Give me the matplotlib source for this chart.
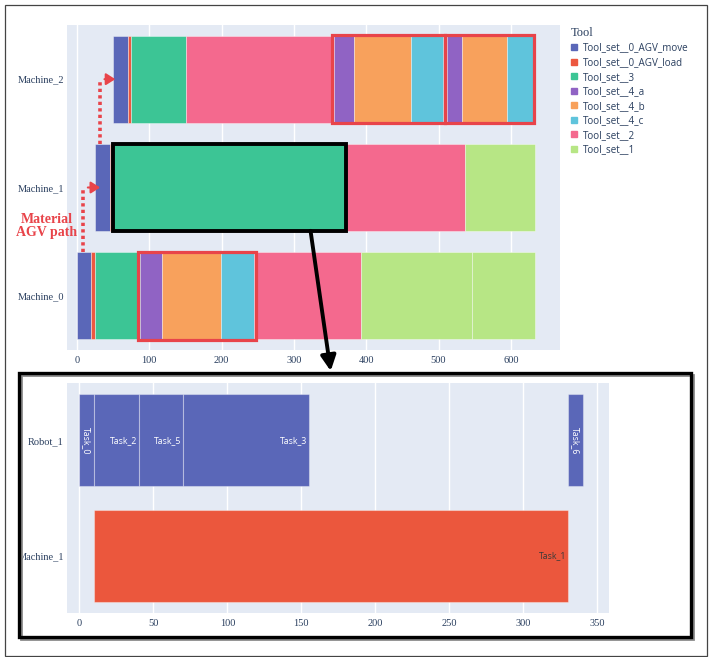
import matplotlib
matplotlib.use('Agg')
import matplotlib.pyplot as plt
import numpy as np
from matplotlib.patches import Rectangle, ConnectionPatch
from matplotlib.lines import Line2D

W, H = 710, 657

# --- top chart data (machine schedule by tool set) ---
tool_names = ['Tool_set__0_AGV_move', 'Tool_set__0_AGV_load', 'Tool_set__3',
              'Tool_set__4_a', 'Tool_set__4_b', 'Tool_set__4_c',
              'Tool_set__2', 'Tool_set__1']
tool_colors = ['#5A67B8', '#EC5840', '#3CC595', '#9063C4',
               '#F8A15C', '#5FC4DC', '#F4698E', '#B7E685']

machines = ['Machine_0', 'Machine_1', 'Machine_2']

m0_tools = ['Tool_set__0_AGV_move', 'Tool_set__0_AGV_load', 'Tool_set__3',
            'Tool_set__4_a', 'Tool_set__4_b', 'Tool_set__4_c',
            'Tool_set__2', 'Tool_set__1', 'Tool_set__1']
m0_start = [0, 20, 25, 87, 118, 199, 245, 393, 546]
m0_end = [20, 25, 87, 118, 199, 245, 393, 546, 633]

m1_tools = ['Tool_set__0_AGV_move', 'Tool_set__0_AGV_load', 'Tool_set__3',
            'Tool_set__2', 'Tool_set__1']
m1_start = [25, 45, 50, 372, 536]
m1_end = [45, 50, 372, 536, 633]

m2_tools = ['Tool_set__0_AGV_move', 'Tool_set__0_AGV_load', 'Tool_set__3',
            'Tool_set__2', 'Tool_set__4_a', 'Tool_set__4_b', 'Tool_set__4_c',
            'Tool_set__4_a', 'Tool_set__4_b', 'Tool_set__4_c']
m2_start = [50, 70, 75, 151, 355, 383, 462, 512, 533, 595]
m2_end = [70, 75, 151, 355, 383, 462, 506, 533, 595, 630]

top_xticks = [0, 100, 200, 300, 400, 500, 600]

# --- bottom chart data (zoom on Machine_1 operation) ---
resources = ['Machine_1', 'Robot_1']
robot_tasks = ['Task_0', 'Task_2', 'Task_5', 'Task_3', 'Task_6']
robot_start = [0, 10, 40, 70, 330]
robot_end = [10, 40, 70, 155, 340]
mach_tasks = ['Task_1']
mach_start = [10]
mach_end = [330]
bottom_xticks = [0, 50, 100, 150, 200, 250, 300, 350]

BG = '#E4EAF4'
TICKC = '#2A3F5F'
RED = '#E8444A'
serif = 'Liberation Serif'
sans = 'Open Sans'

fig = plt.figure(figsize=(W / 100, H / 100), dpi=100)
color_of = dict(zip(tool_names, tool_colors))


def style_axes(ax, xticks):
    ax.set_facecolor(BG)
    for s in ax.spines.values():
        s.set_visible(False)
    ax.set_xticks(xticks)
    ax.grid(axis='x', color='white', lw=1)
    ax.set_axisbelow(True)
    ax.tick_params(length=0, labelsize=7.5, labelcolor=TICKC)
    ax.tick_params(axis='y', pad=2)
    ax.tick_params(axis='x', pad=4)
    for lab in ax.get_xticklabels() + ax.get_yticklabels():
        lab.set_fontfamily(serif)


### Top chart ###
ax1 = fig.add_axes([67 / W, 1 - 350 / H, 493 / W, 325 / H])
rows = [(m0_tools, m0_start, m0_end), (m1_tools, m1_start, m1_end),
        (m2_tools, m2_start, m2_end)]
for r, (tl, st, en) in enumerate(rows):
    ax1.barh(r, np.subtract(en, st), left=st, height=0.8,
             color=[color_of[t] for t in tl], edgecolor=(1, 1, 1, 0.45), lw=0.6)
ax1.set_xlim(-13.8, 668)
ax1.set_ylim(-0.5, 2.5)
ax1.set_yticks(range(len(machines)))
ax1.set_yticklabels(machines)
style_axes(ax1, top_xticks)

# highlight boxes (red) around the Tool_set__4 groups
for r, a, b in [(0, m0_start[3], m0_end[5]), (2, m2_start[4], m2_end[6]),
                (2, m2_start[7], m2_end[9])]:
    ax1.add_patch(Rectangle((a - 2.5, r - 0.405), b - a + 5, 0.81, fill=False,
                            ec=RED, lw=2.3, zorder=5, clip_on=False))
# black box around the Machine_1 Tool_set__3 operation
ax1.add_patch(Rectangle((m1_start[2], 0.6), m1_end[2] - m1_start[2], 0.8,
                        fill=False, ec='black', lw=2.8, zorder=6, clip_on=False))

# material AGV path (dotted red arrows)
for x, y0, y1, xa, xb in [(8, 0.4, 1.0, 15, 32), (32, 1.4, 2.0, 38, 53)]:
    ax1.plot([x, x], [y0, y1], color=RED, lw=2.6, ls=(0, (0.9, 0.9)), zorder=7,
             clip_on=False)
    ax1.annotate('', xy=(xb, y1), xytext=(xa, y1), zorder=7,
                 arrowprops=dict(arrowstyle='-|>,head_length=0.55,head_width=0.35',
                                 color=RED, lw=1.5, shrinkA=0, shrinkB=0))
fig.text(47 / W, 1 - 226 / H, 'Material\nAGV path', color=RED, family=serif,
         weight='bold', fontsize=10, ha='center', va='center', linespacing=1.05)

# legend
handles = [Line2D([], [], marker='s', ls='', color=c, markersize=4)
           for c in tool_colors]
leg = fig.legend(handles, tool_names, loc='upper left', frameon=False,
                 bbox_to_anchor=(571 / W, 1 - 27 / H),
                 title='Tool', handlelength=0.7, handletextpad=0.55,
                 labelspacing=0.36, borderaxespad=0, borderpad=0,
                 alignment='left', labelcolor=TICKC,
                 prop={'family': sans, 'size': 7.1})
leg.get_title().set_fontfamily(serif)
leg.get_title().set_fontsize(9)
leg.get_title().set_color(TICKC)

### Bottom chart ###
ax2 = fig.add_axes([66.7 / W, 1 - 613.3 / H, 542.6 / W, 230.6 / H])
brows = [(mach_tasks, mach_start, mach_end, '#EB573D', '#3A3A3A'),
         (robot_tasks, robot_start, robot_end, '#5A67B8', 'white')]
for r, (tk, st, en, col, tcol) in enumerate(brows):
    ax2.barh(r, np.subtract(en, st), left=st, height=0.8, color=col,
             edgecolor=(1, 1, 1, 0.35), lw=0.8)
    for name, a, b in zip(tk, st, en):
        if b - a < 20:
            ax2.text((a + b) / 2, r, name, rotation=-90, ha='center', va='center',
                     color=tcol, fontsize=6.3, family=sans)
        else:
            ax2.text(b - 1, r, name, ha='right', va='center', color=tcol,
                     fontsize=6.3, family=sans)
ax2.set_xlim(-8.5, 358)
ax2.set_ylim(-0.5, 1.5)
ax2.set_yticks(range(len(resources)))
ax2.set_yticklabels(resources)
style_axes(ax2, bottom_xticks)

# zoom arrow from the black box to the bottom panel
con = ConnectionPatch(xyA=(323, 0.6), coordsA=ax1.transData,
                      xyB=(330.7 / W, 1 - 371 / H), coordsB=fig.transFigure,
                      arrowstyle='-|>,head_length=0.9,head_width=0.45',
                      color='black', lw=2.8, zorder=8)
fig.add_artist(con)

# frames
fig.add_artist(Rectangle((21 / W, 1 - 639 / H), 672 / W, 264 / H,
                         transform=fig.transFigure, fill=False, ec='#8a8a8a', lw=2))
fig.add_artist(Rectangle((19 / W, 1 - 637 / H), 672 / W, 264 / H,
                         transform=fig.transFigure, fill=False, ec='black', lw=2.4))
fig.add_artist(Rectangle((4.5 / W, 1 - 656 / H), 702.5 / W, 651 / H,
                         transform=fig.transFigure, fill=False, ec='#444444', lw=0.9))

fig.savefig('out.png', dpi=100)
